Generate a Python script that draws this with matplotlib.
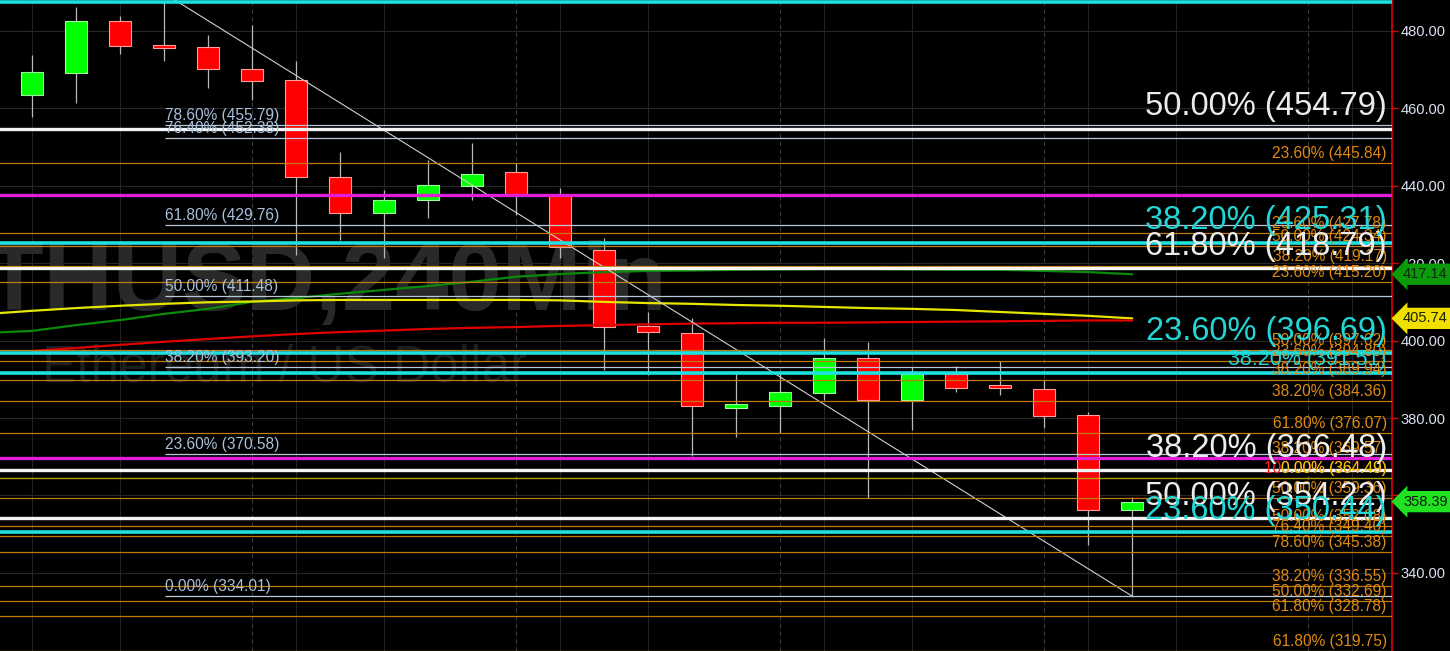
"""
ETHUSD 240 min candles with fibonacci levels, drawn in matplotlib.
"""

import matplotlib
matplotlib.use("Agg")
import matplotlib.pyplot as plt
from matplotlib.patches import Rectangle
import numpy as np

plt.rcParams['font.family'] = ['Liberation Sans', 'DejaVu Sans']

# 4h candles, oldest first
candle_open = [463.5, 469.2, 482.6, 476.4, 475.9, 470.2, 467.3, 442.3, 433.0, 436.3,
               440.0, 443.6, 437.6, 423.4, 403.8, 402.0, 382.6, 383.1, 386.5, 395.5,
               384.7, 391.4, 388.6, 387.5, 380.8, 356.3]
candle_high = [473.8, 486.2, 483.9, 487.5, 479.0, 481.5, 472.3, 448.7, 438.9, 446.7,
               451.1, 445.9, 439.4, 426.5, 407.4, 405.9, 392.2, 391.9, 400.7, 399.7,
               393.2, 393.5, 394.8, 389.8, 381.6, 359.6]
candle_low = [457.8, 461.4, 474.1, 472.3, 465.3, 462.2, 422.1, 426.0, 421.4, 431.7,
              436.3, 432.5, 421.4, 392.4, 391.1, 370.2, 375.1, 376.1, 384.7, 359.4,
              376.9, 386.7, 386.0, 377.4, 347.2, 334.01]
candle_close = [469.4, 482.6, 476.1, 475.6, 470.2, 467.1, 442.3, 433.0, 436.3, 440.2,
                443.1, 437.6, 424.2, 403.5, 402.2, 383.1, 383.6, 386.7, 395.5, 384.7,
                391.4, 387.8, 387.8, 380.5, 356.3, 358.39]

# moving averages (green/yellow start one bar before the first candle)
ma_green = [402.0, 402.5, 404.0, 405.3, 406.9, 408.2, 410.0, 411.0, 412.1, 413.1,
            414.1, 415.2, 416.5, 417.2, 417.7, 418.0, 418.1, 418.3, 418.4, 418.5,
            418.5, 418.4, 418.3, 418.3, 418.0, 417.7, 417.14]
ma_yellow = [406.9, 407.7, 408.4, 409.0, 409.5, 409.9, 410.1, 410.4, 410.5, 410.5,
             410.5, 410.5, 410.5, 410.4, 410.0, 409.7, 409.5, 409.2, 409.0, 408.7,
             408.4, 408.2, 407.9, 407.4, 406.9, 406.4, 405.74]
ma_red = [397.3, 398.1, 398.9, 399.7, 400.4, 401.1, 401.7, 402.2, 402.6, 403.0,
          403.3, 403.5, 403.8, 404.0, 404.2, 404.4, 404.5, 404.6, 404.6, 404.7,
          404.8, 404.9, 405.0, 405.1, 405.2, 405.2]

# retracement levels
white_pct = ["50.00%", "61.80%", "38.20%", "50.00%"]
white_lvl = [454.79, 418.79, 366.48, 354.22]
cyan_pct = ["38.20%", "23.60%", "23.60%"]
cyan_lvl = [425.31, 396.69, 350.44]
cyan_mid_pct = ["38.20%"]
cyan_mid_lvl = [391.51]
cyan_top_lvl = [487.6]
magenta_lvl = [437.6, 369.7]
orange_pct = ["23.60%", "23.60%", "50.00%", "38.20%", "23.60%", "50.00%", "23.60%",
              "38.20%", "38.20%", "61.80%", "38.20%", "50.00%", "50.00%", "76.40%",
              "78.60%", "38.20%", "50.00%", "61.80%", "61.80%"]
orange_lvl = [445.84, 427.78, 424.34, 419.17, 415.20, 397.62, 394.80, 389.94, 384.36,
              376.07, 369.57, 359.36, 352.08, 349.40, 345.38, 336.55, 332.69, 328.78,
              319.75]
yellow_pct = ["0.00%"]
red_pct = ["100.00%"]
yellow_lvl = [364.49]
fib_pct = ["78.60%", "76.40%", "61.80%", "50.00%", "38.20%", "23.60%", "0.00%"]
fib_lvl = [455.79, 452.38, 429.76, 411.48, 393.20, 370.58, 334.01]
fib_start = 3.02
trend_x = [3.12, 25]
trend_y = [488.9, 334.01]

y_ticks = [340, 360, 380, 400, 420, 440, 460, 480]
tag_values = [417.14, 405.74, 358.39]

fig = plt.figure(figsize=(14.5, 6.51), dpi=100, facecolor='black')
ax = fig.add_axes([0, 0, 1392 / 1450, 1])
ax.set_facecolor('black')
x_min, x_max = -0.727, 30.91
ax.set_xlim(x_min, x_max)
ax.set_ylim(319.8, 488.0)

# grid
ax.set_yticks(y_ticks)
ax.set_yticklabels([f"{v:.2f}" for v in y_ticks])
ax.grid(axis='y', color='#262626', lw=0.8)
for k in range(-1, 32):
    if k % 6 == 5:
        ax.axvline(k, color='#3a3a3a', lw=0.8, ls=(0, (4, 3)), zorder=0)
    elif k % 6 in (0, 2):
        ax.axvline(k, color='#222222', lw=0.8, zorder=0)

# watermark
ax.text(-78 / 44 - 0.727, 408.0, "ETHUSD,240Min", fontsize=69, fontweight='bold',
        color='#292929', ha='left', va='baseline', zorder=0)
ax.text(42 / 44 - 0.727, 389.5, "Ethereum / US Dollar", fontsize=37,
        color='#1e1e1e', ha='left', va='baseline', zorder=0)

# candles
for i in range(len(candle_open)):
    o, h, l, c = candle_open[i], candle_high[i], candle_low[i], candle_close[i]
    up = c >= o
    ax.vlines(i, l, h, color='#b8b8b8', lw=0.9, zorder=2)
    face = '#00ff00' if up else '#ff0000'
    edge = '#9cff9c' if up else '#ff9c9c'
    ax.add_patch(Rectangle((i - 0.24, min(o, c)), 0.48, max(abs(c - o), 0.4),
                           fc=face, ec=edge, lw=0.8, zorder=3))

# moving averages
ax.plot(np.arange(-1, 26), ma_green, color='#0a8a0a', lw=1.6, zorder=4)
ax.plot(np.arange(-1, 26), ma_yellow, color='#e6e600', lw=1.6, zorder=4)
ax.plot(np.arange(0, 26), ma_red, color='#e00000', lw=1.6, zorder=4)

# trend line of the retracement
ax.plot(trend_x, trend_y, color='#d0d0d0', lw=0.8, zorder=5)

# horizontal levels
x_text = 30.79
for v in orange_lvl:
    ax.axhline(v, color='#c07a10', lw=0.9, zorder=5)
for v in fib_lvl:
    ax.hlines(v, fib_start, x_max, color='#b8c8d8', lw=0.9, zorder=5)
for v in yellow_lvl:
    ax.axhline(v, color='#b0a000', lw=1.0, zorder=5)
for v in magenta_lvl:
    ax.axhline(v, color='#e020d8', lw=2.4, zorder=6)
for v in white_lvl:
    ax.axhline(v, color='#f4f4f4', lw=2.4, zorder=6)
for v in cyan_lvl + cyan_mid_lvl + cyan_top_lvl:
    ax.axhline(v, color='#1ee0e0', lw=2.6, zorder=6)

# labels
small = 11.2
for p, v in zip(orange_pct, orange_lvl):
    ax.annotate(f"{p} ({v:.2f})", xy=(x_text, v), xytext=(0, 1.5),
                textcoords='offset points', ha='right', va='bottom',
                fontsize=small, color='#e08a10', zorder=7)
for p, v in zip(red_pct, yellow_lvl):
    ax.annotate(f"{p} ({v:.2f})", xy=(x_text, v), xytext=(0, 1.5),
                textcoords='offset points', ha='right', va='bottom',
                fontsize=small, color='#ff1a1a', zorder=7)
for p, v in zip(yellow_pct, yellow_lvl):
    ax.annotate(f"{p} ({v:.2f})", xy=(x_text, v), xytext=(0, 1.5),
                textcoords='offset points', ha='right', va='bottom',
                fontsize=small, color='#e8d200', zorder=7)
for p, v in zip(fib_pct, fib_lvl):
    ax.annotate(f"{p} ({v:.2f})", xy=(fib_start, v), xytext=(0, 1.5),
                textcoords='offset points', ha='left', va='bottom',
                fontsize=small, color='#a8c0dc', zorder=7)
for p, v in zip(cyan_mid_pct, cyan_mid_lvl):
    ax.annotate(f"{p} ({v:.2f})", xy=(x_text, v), xytext=(0, 2.5),
                textcoords='offset points', ha='right', va='bottom',
                fontsize=15.5, color='#22d6d6', zorder=8)
for p, v in zip(white_pct, white_lvl):
    ax.annotate(f"{p} ({v:.2f})", xy=(x_text, v), xytext=(0, 4.5),
                textcoords='offset points', ha='right', va='bottom',
                fontsize=23.5, color='#ececec', zorder=8)
for p, v in zip(cyan_pct, cyan_lvl):
    ax.annotate(f"{p} ({v:.2f})", xy=(x_text, v), xytext=(0, 4.5),
                textcoords='offset points', ha='right', va='bottom',
                fontsize=23.5, color='#22d6d6', zorder=8)

# right price axis
for side in ('top', 'bottom', 'left'):
    ax.spines[side].set_visible(False)
ax.spines['right'].set_color('#e00000')
ax.spines['right'].set_linewidth(1.2)
ax.set_xticks([])
ax.yaxis.tick_right()
ax.tick_params(axis='y', color='#e00000', length=4, width=1, pad=2,
               labelcolor='#dde2f2', labelsize=10.5)

# price tags
tag_face = ['#0a9a0a', '#f0e000', '#22e022']
tag_text = ['#0c2a0c', '#202000', '#082008']
for v, fc, tc in zip(tag_values, tag_face, tag_text):
    ax.annotate(f"{v:.2f}", xy=(1.0, v), xycoords=('axes fraction', 'data'),
                xytext=(8, 0), textcoords='offset points', ha='left', va='center',
                fontsize=10.5, color=tc, annotation_clip=False, zorder=10,
                bbox=dict(boxstyle='larrow,pad=0.25', fc=fc, ec='none'))

fig.savefig("out.png", dpi=100, facecolor='black')
